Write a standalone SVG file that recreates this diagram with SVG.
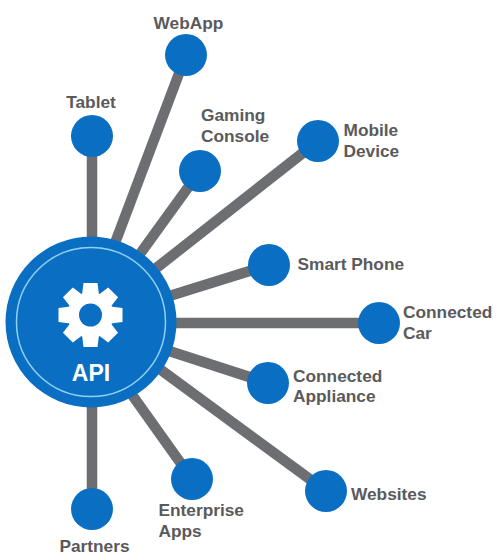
<svg xmlns="http://www.w3.org/2000/svg" width="500" height="560" viewBox="0 0 500 560">
<style>
.c{stroke:#6d6e71;stroke-width:10.500;fill:none}
.n{fill:#0a6fc2}
text{font-family:"Liberation Sans",Arial,sans-serif;font-weight:700;font-size:17.300px;fill:#5a5a5c}
.m{text-anchor:middle}
.t{fill:#fff}
</style>
<rect width="500" height="560" fill="#fff"/>
<g id="connectors">
<line class="c" x1="92" y1="322" x2="92" y2="136"/>
<line class="c" x1="113.500" y1="247" x2="186" y2="55"/>
<line class="c" x1="137" y1="258" x2="200" y2="171"/>
<line class="c" x1="150" y1="273" x2="318" y2="141"/>
<line class="c" x1="163" y1="298" x2="269" y2="265"/>
<line class="c" x1="165" y1="323" x2="379" y2="323"/>
<line class="c" x1="163" y1="349" x2="268" y2="383"/>
<line class="c" x1="157" y1="367" x2="326" y2="491"/>
<line class="c" x1="130" y1="392" x2="192" y2="479"/>
<line class="c" x1="92" y1="322" x2="92" y2="509"/>
</g>
<g id="api">
<circle cx="91" cy="322" r="85.500" class="n"/>
<circle cx="91" cy="322" r="74.500" fill="none" stroke="#8fd0f5" stroke-width="1.500"/>
<g transform="translate(90.500 315)" fill="#fff">
<circle r="23"/>
<path d="M-7-32H7L8.500-20H-8.500Z"/>
<path d="M-7-32H7L8.500-20H-8.500Z" transform="rotate(45)"/>
<path d="M-7-32H7L8.500-20H-8.500Z" transform="rotate(90)"/>
<path d="M-7-32H7L8.500-20H-8.500Z" transform="rotate(135)"/>
<path d="M-7-32H7L8.500-20H-8.500Z" transform="rotate(180)"/>
<path d="M-7-32H7L8.500-20H-8.500Z" transform="rotate(225)"/>
<path d="M-7-32H7L8.500-20H-8.500Z" transform="rotate(270)"/>
<path d="M-7-32H7L8.500-20H-8.500Z" transform="rotate(315)"/>
<circle r="11.500" class="n"/>
</g>
<text x="91" y="380.500" class="m t" style="font-size:23px">API</text>
</g>
<g id="webapp"><circle cx="186" cy="55" r="21" class="n"/><text x="188.500" y="29" class="m">WebApp</text></g>
<g id="tablet"><circle cx="92" cy="136" r="21" class="n"/><text x="91" y="108" class="m">Tablet</text></g>
<g id="gaming"><circle cx="200" cy="171" r="21" class="n"/><text x="201" y="121">Gaming</text><text x="201" y="142">Console</text></g>
<g id="mobile"><circle cx="318" cy="141" r="21" class="n"/><text x="343.500" y="136">Mobile</text><text x="343.500" y="157">Device</text></g>
<g id="smart"><circle cx="269" cy="265" r="21" class="n"/><text x="297.500" y="270">Smart Phone</text></g>
<g id="car"><circle cx="379" cy="323" r="21" class="n"/><text x="403" y="318">Connected</text><text x="403" y="338.500">Car</text></g>
<g id="appliance"><circle cx="268" cy="383" r="21" class="n"/><text x="293" y="381.500">Connected</text><text x="293" y="402">Appliance</text></g>
<g id="websites"><circle cx="326" cy="491" r="21" class="n"/><text x="351" y="500">Websites</text></g>
<g id="enterprise"><circle cx="192" cy="479" r="21" class="n"/><text x="158.500" y="516">Enterprise</text><text x="158.500" y="537">Apps</text></g>
<g id="partners"><circle cx="92" cy="509" r="21" class="n"/><text x="94.500" y="552" class="m">Partners</text></g>
</svg>
